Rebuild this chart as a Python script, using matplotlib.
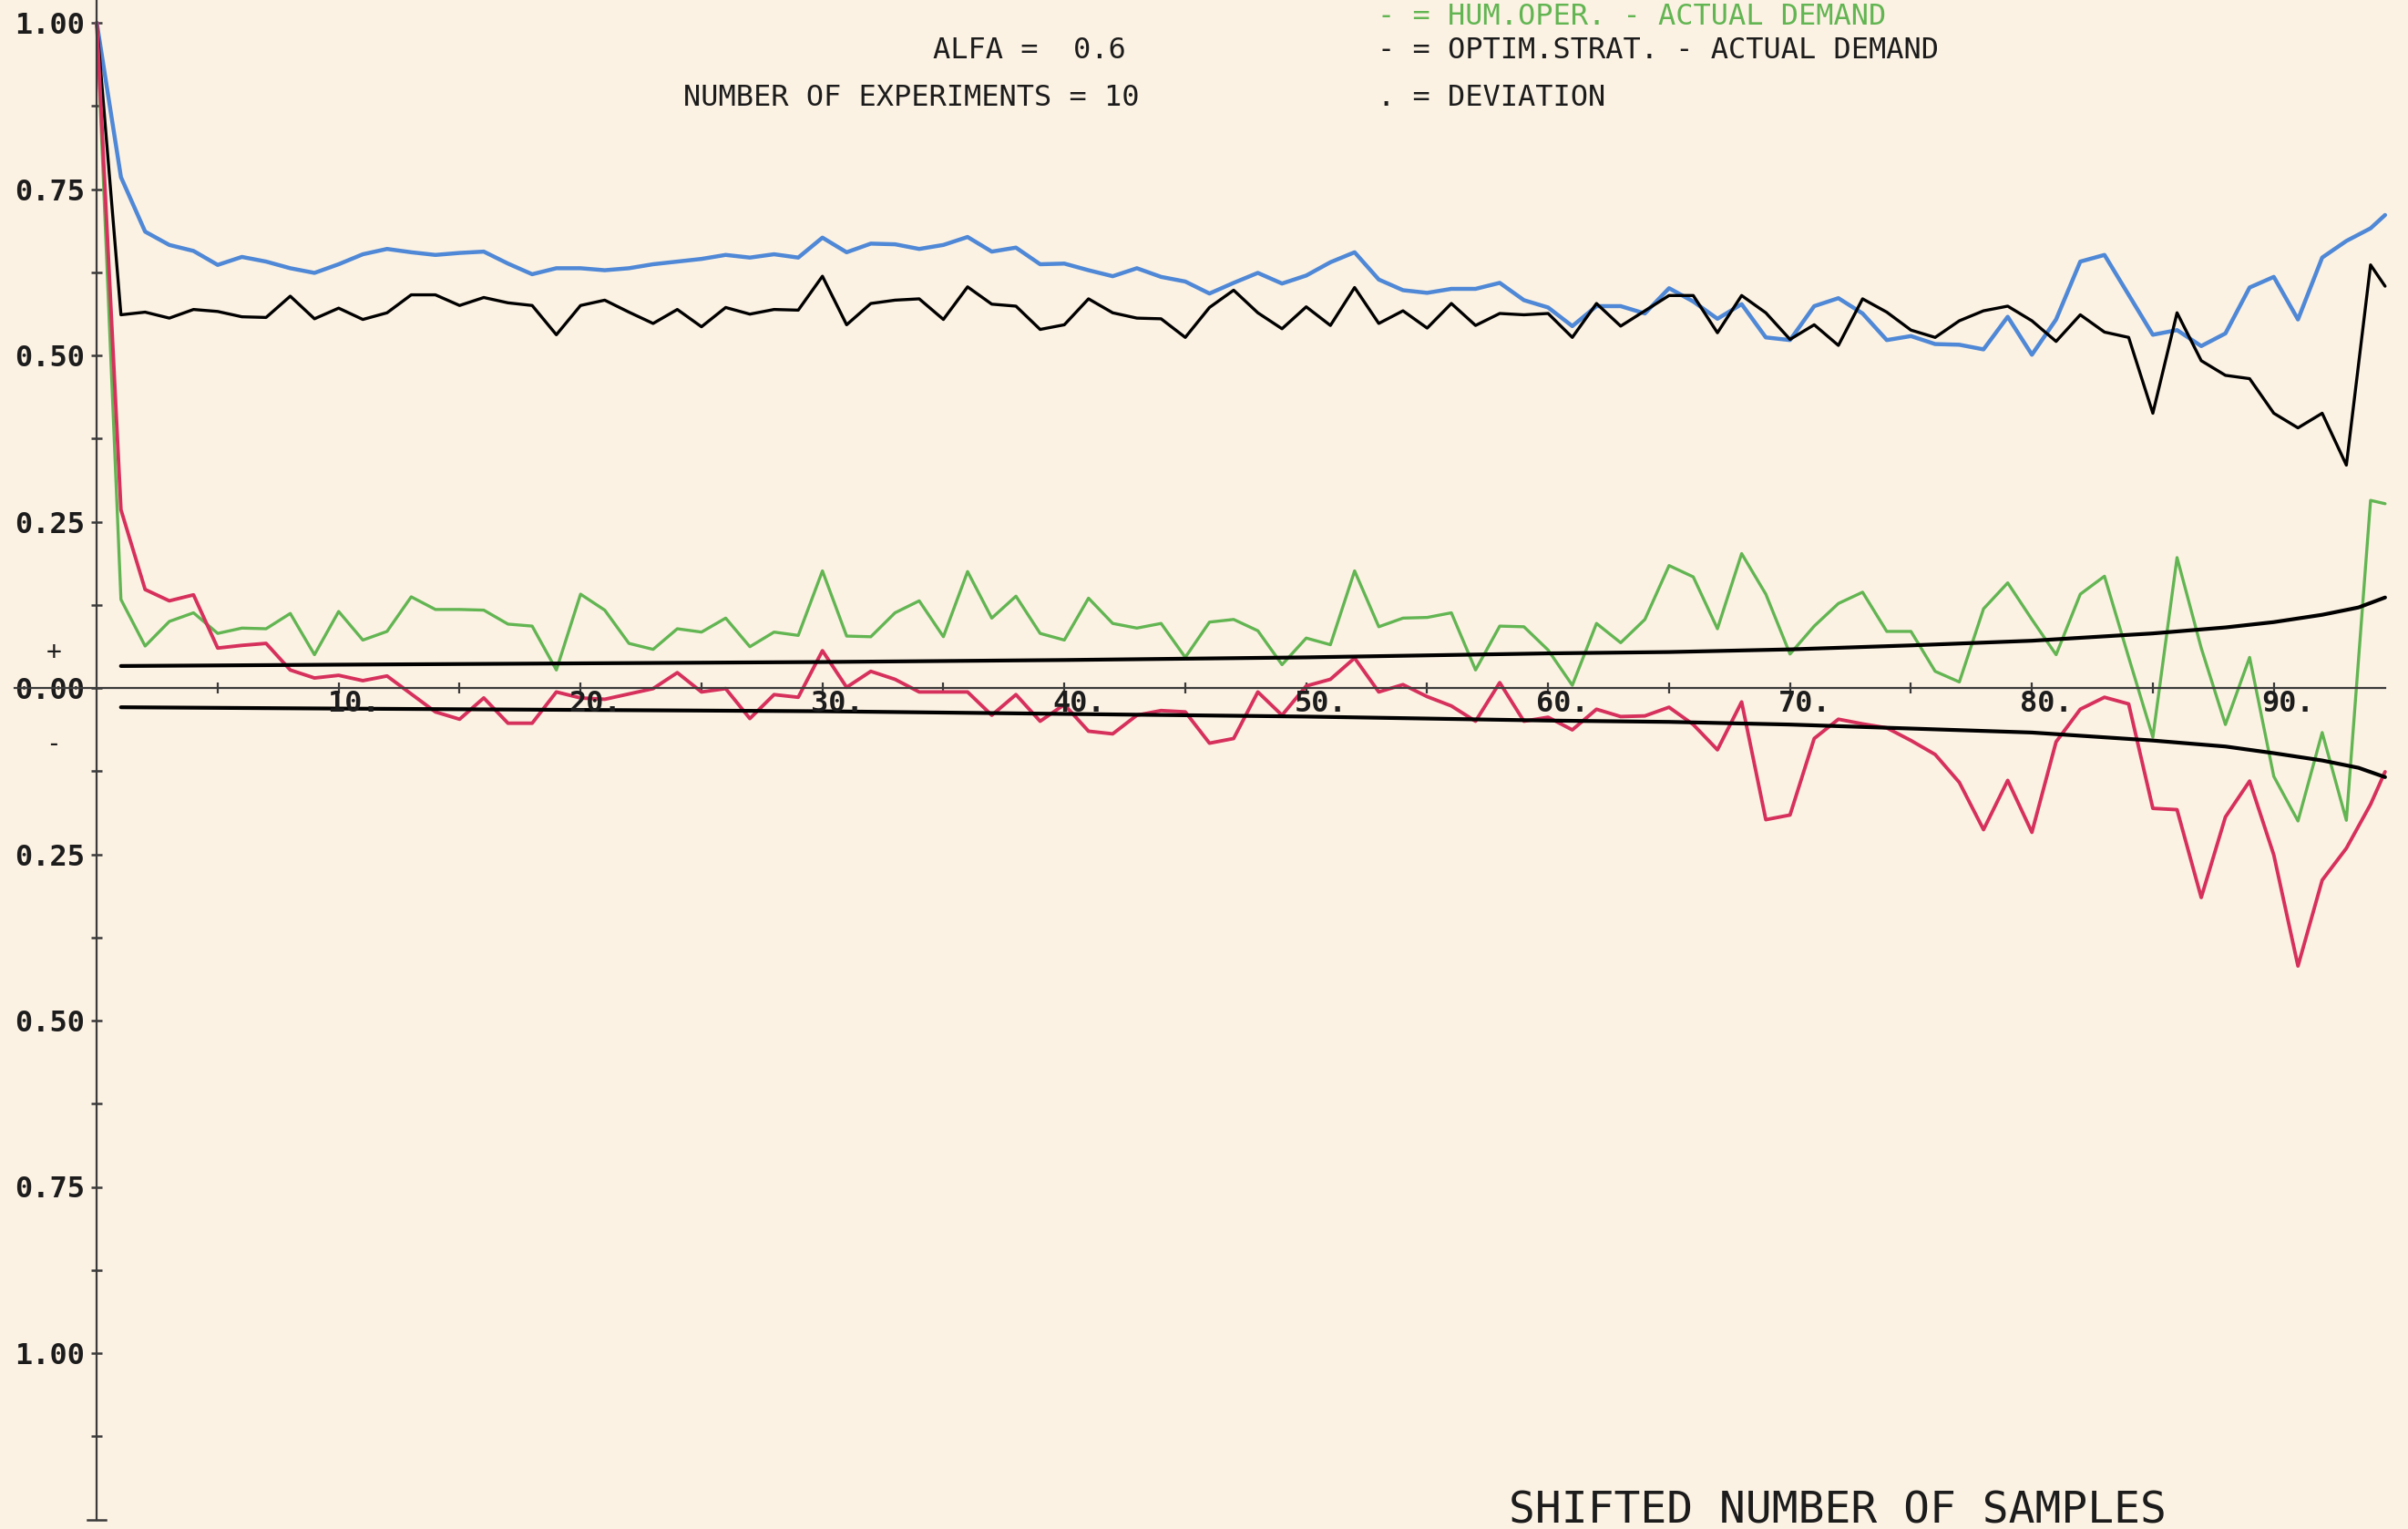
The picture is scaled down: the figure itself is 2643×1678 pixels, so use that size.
"""Demand-tracking experiment, ALFA = 0.6: normalised errors of the human
operator and of the optimal strategy versus shifted sample number, with the
deviation band drawn around zero. Plotter-style layout, saved to out.png."""

import matplotlib
matplotlib.use("Agg")
import matplotlib.pyplot as plt
from matplotlib.transforms import offset_copy

plt.rcParams["font.family"] = ["DejaVu Sans Mono", "DejaVu Sans"]

# ---- data -------------------------------------------------------------
samples = list(range(95)) + [94.6]

hum_oper_abs = [  # blue
    1.00, 0.768, 0.686, 0.666, 0.657, 0.636, 0.648, 0.641, 0.631, 0.624,
    0.637, 0.652, 0.660, 0.655, 0.651, 0.654, 0.656, 0.638, 0.622, 0.631,
    0.631, 0.628, 0.631, 0.637, 0.641, 0.645, 0.651, 0.647, 0.652, 0.647,
    0.677, 0.655, 0.668, 0.667, 0.660, 0.666, 0.678, 0.656, 0.662, 0.637,
    0.638, 0.628, 0.619, 0.631, 0.618, 0.611, 0.593, 0.609, 0.624, 0.608,
    0.620, 0.640, 0.655, 0.614, 0.598, 0.594, 0.600, 0.600, 0.609, 0.583,
    0.572, 0.544, 0.574, 0.574, 0.563, 0.601, 0.581, 0.555, 0.577, 0.527,
    0.523, 0.574, 0.586, 0.563, 0.523, 0.529, 0.517, 0.516, 0.509, 0.558,
    0.501, 0.554, 0.641, 0.651, 0.591, 0.531, 0.538, 0.514, 0.533, 0.602,
    0.618, 0.554, 0.647, 0.672, 0.691, 0.711,
]

optim_abs = [  # black
    1.00, 0.561, 0.565, 0.556, 0.569, 0.566, 0.558, 0.557, 0.589, 0.555,
    0.571, 0.554, 0.564, 0.591, 0.591, 0.575, 0.587, 0.579, 0.575, 0.531,
    0.575, 0.583, 0.565, 0.548, 0.569, 0.543, 0.572, 0.562, 0.569, 0.568,
    0.619, 0.546, 0.578, 0.583, 0.585, 0.554, 0.603, 0.577, 0.574, 0.539,
    0.546, 0.585, 0.564, 0.556, 0.555, 0.527, 0.572, 0.598, 0.564, 0.540,
    0.573, 0.545, 0.602, 0.548, 0.567, 0.541, 0.578, 0.545, 0.563, 0.561,
    0.563, 0.527, 0.578, 0.544, 0.567, 0.590, 0.590, 0.534, 0.590, 0.564,
    0.524, 0.546, 0.515, 0.585, 0.565, 0.538, 0.527, 0.552, 0.567, 0.574,
    0.552, 0.521, 0.561, 0.535, 0.527, 0.413, 0.564, 0.492, 0.470, 0.465,
    0.413, 0.391, 0.413, 0.335, 0.636, 0.604,
]

hum_oper_diff = [  # green
    1.00, 0.133, 0.063, 0.100, 0.113, 0.082, 0.090, 0.089, 0.112, 0.050,
    0.115, 0.072, 0.085, 0.137, 0.118, 0.118, 0.117, 0.096, 0.093, 0.027,
    0.141, 0.117, 0.067, 0.058, 0.089, 0.084, 0.105, 0.062, 0.084, 0.079,
    0.176, 0.078, 0.077, 0.113, 0.131, 0.077, 0.175, 0.105, 0.138, 0.082,
    0.072, 0.135, 0.097, 0.090, 0.097, 0.046, 0.099, 0.103, 0.086, 0.035,
    0.075, 0.065, 0.176, 0.092, 0.105, 0.106, 0.113, 0.027, 0.093, 0.092,
    0.057, 0.004, 0.097, 0.068, 0.103, 0.184, 0.167, 0.089, 0.202, 0.141,
    0.051, 0.093, 0.127, 0.144, 0.085, 0.085, 0.025, 0.009, 0.119, 0.158,
    0.103, 0.050, 0.141, 0.168, 0.046, -0.074, 0.196, 0.060, -0.055, 0.046,
    -0.133, -0.200, -0.067, -0.199, 0.282, 0.277,
]

optim_diff = [  # red
    1.00, 0.268, 0.148, 0.131, 0.140, 0.060, 0.064, 0.067, 0.027, 0.015,
    0.019, 0.011, 0.018, -0.009, -0.036, -0.047, -0.015, -0.053, -0.053, -0.006,
    -0.015, -0.017, -0.009, -0.001, 0.023, -0.006, -0.001, -0.046, -0.010, -0.014,
    0.056, 0.001, 0.025, 0.013, -0.006, -0.006, -0.006, -0.041, -0.010, -0.050,
    -0.025, -0.065, -0.069, -0.041, -0.034, -0.036, -0.083, -0.076, -0.006, -0.041,
    0.003, 0.013, 0.045, -0.006, 0.005, -0.013, -0.027, -0.050, 0.008, -0.050,
    -0.044, -0.063, -0.032, -0.043, -0.042, -0.029, -0.055, -0.093, -0.021, -0.198,
    -0.191, -0.076, -0.047, -0.054, -0.060, -0.079, -0.100, -0.142, -0.213, -0.139,
    -0.217, -0.081, -0.032, -0.014, -0.024, -0.181, -0.183, -0.315, -0.194, -0.140,
    -0.251, -0.418, -0.289, -0.241, -0.175, -0.126,
]

# deviation band
dev_x = [1, 10, 20, 30, 40, 45, 50, 55, 60, 65, 70, 75, 80, 85, 88, 90, 92, 93.5, 94.6]
dev_up = [0.033, 0.035, 0.037, 0.039, 0.042, 0.044, 0.046, 0.049, 0.052, 0.054,
          0.058, 0.064, 0.071, 0.082, 0.091, 0.099, 0.110, 0.121, 0.136]
dev_lo = [-0.029, -0.031, -0.033, -0.035, -0.039, -0.041, -0.043, -0.046, -0.049, -0.051,
          -0.055, -0.061, -0.067, -0.079, -0.088, -0.098, -0.109, -0.120, -0.134]

y_major = [1.0, 0.75, 0.5, 0.25, 0.0, -0.25, -0.5, -0.75, -1.0]
y_labels = ["1.00", "0.75", "0.50", "0.25", "0.00", "0.25", "0.50", "0.75", "1.00"]
y_minor = [0.875, 0.625, 0.375, 0.125, -0.125, -0.375, -0.625, -0.875, -1.125]
x_ticks = list(range(5, 95, 5))
x_labeled = list(range(10, 95, 10))

PAPER = "#fcf2e3"
AXIS = "#3a3a3a"
BLUE = "#4f88d6"
GREEN = "#62b552"
RED = "#d6305c"
INK = "#1c1c1c"

# ---- figure -----------------------------------------------------------
W, H = 2643, 1678
fig = plt.figure(figsize=(W / 100, H / 100), dpi=100)
fig.patch.set_facecolor(PAPER)
ax = fig.add_axes([0, 0, 1, 1])
ax.set_facecolor(PAPER)

# origin sits 106 px from the left and 755 px from the top
ax.set_xlim(-106.2 / 26.55, (W - 106.2) / 26.55)
ax.set_ylim(-(H - 755) / 730, 755 / 730)

kw = dict(solid_joinstyle="round", solid_capstyle="round")
ax.plot(samples, hum_oper_abs, color=BLUE, lw=3.2, **kw)
ax.plot(samples, optim_abs, color="black", lw=2.4, **kw)
ax.plot(samples, hum_oper_diff, color=GREEN, lw=2.4, **kw)
ax.plot(samples, optim_diff, color=RED, lw=2.8, **kw)
ax.plot(dev_x, dev_up, color="black", lw=3.0, **kw)
ax.plot(dev_x, dev_lo, color="black", lw=3.0, **kw)

# axes drawn through the origin, plotter style
for s in ("top", "right"):
    ax.spines[s].set_visible(False)
for s in ("left", "bottom"):
    ax.spines[s].set_position(("data", 0))
    ax.spines[s].set_color(AXIS)
    ax.spines[s].set_linewidth(1.6)
ax.spines["left"].set_bounds(-1.25, 1.04)
ax.spines["bottom"].set_bounds(-3.4, 94.6)
ax.plot([-0.38, 0.38], [-1.25, -1.25], color=AXIS, lw=1.8)

ax.set_yticks(y_major)
ax.set_yticklabels(y_labels, fontweight="bold")
ax.set_yticks(y_minor, minor=True)
ax.tick_params(axis="y", which="both", direction="inout", length=9, width=1.8,
               color=AXIS, pad=5, labelsize=23, labelcolor=INK)

ax.set_xticks(x_ticks)
ax.tick_params(axis="x", direction="inout", length=9, width=1.6, color=AXIS,
               labelbottom=False)

lab_tf = offset_copy(ax.transData, fig=fig, x=-13, y=-17, units="dots")
for v in x_labeled:
    ax.text(v, 0, f"{v}.", transform=lab_tf, ha="left", va="center",
            fontsize=23, fontweight="bold", color=INK)

ax.text(-1.78, 0.053, "+", ha="center", va="center", fontsize=20, color=INK)
ax.text(-1.78, -0.085, "-", ha="center", va="center", fontsize=20, color=INK)


def fx(px):
    return px / W


def fy(py):
    return 1 - py / H


fig.text(fx(1236), fy(64), "ALFA =  0.6", ha="right", va="baseline",
         fontsize=23, color=INK)
fig.text(fx(1250), fy(116), "NUMBER OF EXPERIMENTS = 10", ha="right",
         va="baseline", fontsize=23, color=INK)
fig.text(fx(1512), fy(27), "- = HUM.OPER. - ACTUAL DEMAND", ha="left",
         va="baseline", fontsize=23, color=GREEN)
fig.text(fx(1512), fy(64), "- = OPTIM.STRAT. - ACTUAL DEMAND", ha="left",
         va="baseline", fontsize=23, color=INK)
fig.text(fx(1512), fy(116), ". = DEVIATION", ha="left", va="baseline",
         fontsize=23, color=INK)
fig.text(fx(1656), fy(1672), "SHIFTED NUMBER OF SAMPLES", ha="left",
         va="baseline", fontsize=34.5, color=INK)

fig.savefig("out.png", dpi=100, facecolor=PAPER)
